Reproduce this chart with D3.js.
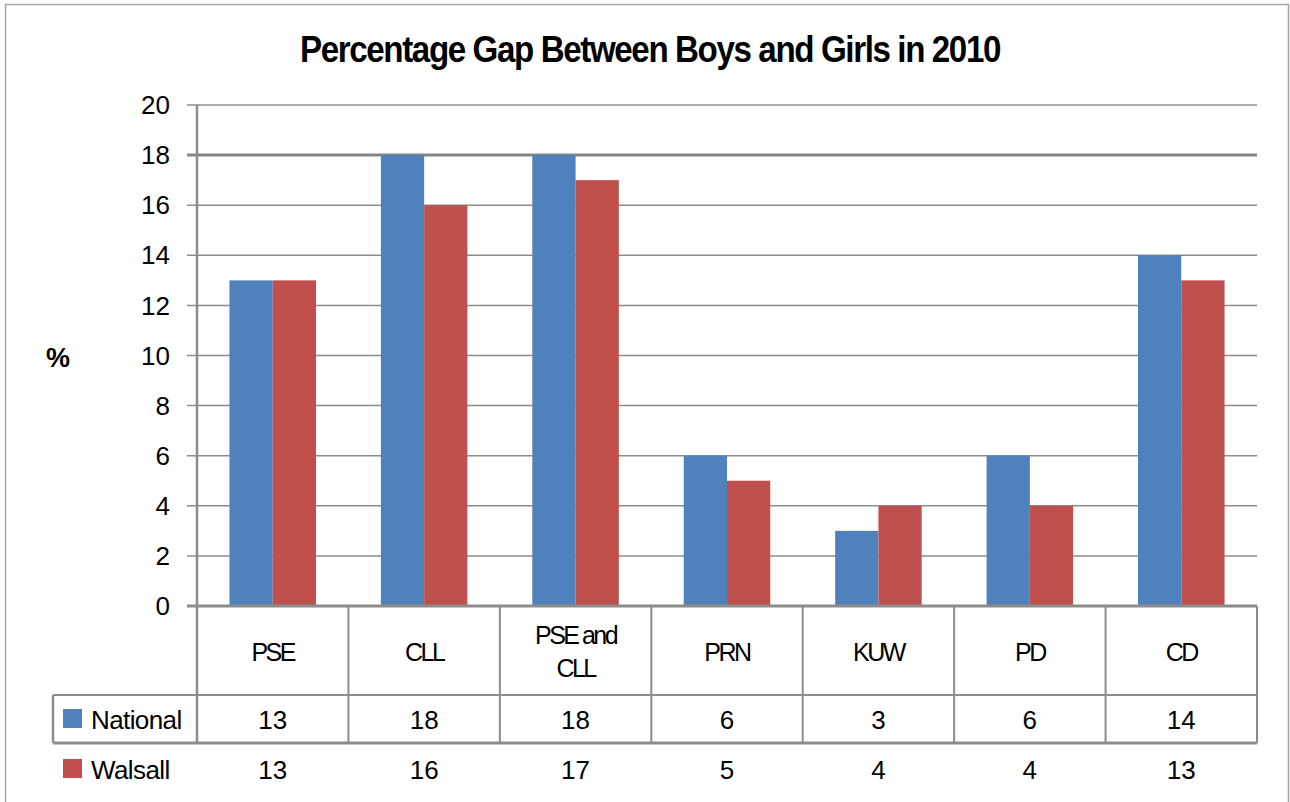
<!DOCTYPE html>
<html>
<head>
<meta charset="utf-8">
<script src="https://cdn.jsdelivr.net/npm/d3@7"></script>
<style>
  body { margin: 0; background: #fff; }
  svg { display: block; font-family: 'Liberation Sans', Arial, sans-serif; }
</style>
</head>
<body>
<div id="chart"></div>
<script>
// data
const categories = ['PSE', 'CLL', 'PSE and CLL', 'PRN', 'KUW', 'PD', 'CD']
const series = ['National', 'Walsall']
const national = [13, 18, 18, 6, 3, 6, 14]
const walsall = [13, 16, 17, 5, 4, 4, 13]
const yTicks = [0, 2, 4, 6, 8, 10, 12, 14, 16, 18, 20]
const colors = ['#4F81BD', '#C0504D']
const values = [national, walsall]

const width = 1290
const height = 802
const plot = { left: 197, right: 1257, top: 105, bottom: 606 }
const headerBottom = 695
const nationalBottom = 743
const gridColor = '#8c8c8c'

const svg = d3.select('#chart')
  .append('svg')
  .attr('width', width)
  .attr('height', height)

// outer frame
svg.append('rect')
  .attr('x', 5.5).attr('y', 4.5)
  .attr('width', 1283).attr('height', 820)
  .attr('fill', 'none')
  .attr('stroke', '#a6a6a6')
  .attr('stroke-width', 1.5)

svg.append('text')
  .attr('x', 650).attr('y', 62)
  .attr('text-anchor', 'middle')
  .attr('font-size', 36)
  .attr('font-weight', 'bold')
  .attr('letter-spacing', -1.5)
  .attr('textLength', 700)
  .attr('lengthAdjust', 'spacingAndGlyphs')
  .text('Percentage Gap Between Boys and Girls in 2010')

const x = d3.scaleBand().domain(categories).range([plot.left, plot.right]).padding(0)
const xs = d3.scaleBand().domain(series).range([0, x.bandwidth()]).paddingInner(0).paddingOuter(0.75)
const y = d3.scaleLinear().domain([0, 20]).range([plot.bottom, plot.top])

// gridlines
svg.append('g')
  .selectAll('line')
  .data(yTicks.filter(d => d > 0))
  .join('line')
  .attr('x1', plot.left - 10).attr('x2', plot.right)
  .attr('y1', d => y(d)).attr('y2', d => y(d))
  .attr('stroke', d => d === 18 ? '#858585' : gridColor)
  .attr('stroke-width', d => d === 18 ? 3 : 1.5)

// y tick labels
svg.append('g')
  .selectAll('text')
  .data(yTicks)
  .join('text')
  .attr('x', 170)
  .attr('y', d => y(d))
  .attr('dy', '0.35em')
  .attr('text-anchor', 'end')
  .attr('font-size', 26)
  .text(d => d)

svg.append('text')
  .attr('x', 58).attr('y', 358)
  .attr('dy', '0.35em')
  .attr('text-anchor', 'middle')
  .attr('font-size', 27)
  .attr('font-weight', 'bold')
  .text('%')

// bars
const groups = svg.append('g')
  .selectAll('g')
  .data(categories)
  .join('g')
  .attr('transform', d => `translate(${x(d)},0)`)

groups.selectAll('rect')
  .data((c, i) => series.map((s, j) => ({ s, j, v: values[j][i] })))
  .join('rect')
  .attr('x', d => xs(d.s))
  .attr('width', xs.bandwidth())
  .attr('y', d => y(d.v))
  .attr('height', d => y(0) - y(d.v))
  .attr('fill', d => colors[d.j])

// table lines
const tbl = svg.append('g').attr('stroke', gridColor).attr('fill', 'none')
// y axis continues through header and national row
tbl.append('line')
  .attr('x1', plot.left).attr('x2', plot.left)
  .attr('y1', plot.top).attr('y2', nationalBottom)
  .attr('stroke-width', 2.5)
// x axis / top of table
tbl.append('line')
  .attr('x1', plot.left - 10).attr('x2', plot.right)
  .attr('y1', plot.bottom).attr('y2', plot.bottom)
  .attr('stroke-width', 3)
// category dividers
tbl.selectAll('.div')
  .data(categories.slice(1).concat(['end']))
  .join('line')
  .attr('class', 'div')
  .attr('x1', d => d === 'end' ? plot.right : x(d))
  .attr('x2', d => d === 'end' ? plot.right : x(d))
  .attr('y1', plot.bottom).attr('y2', nationalBottom)
  .attr('stroke-width', 2)
// horizontal lines of national row
tbl.append('line')
  .attr('x1', 53).attr('x2', plot.right)
  .attr('y1', headerBottom).attr('y2', headerBottom)
  .attr('stroke-width', 2)
tbl.append('line')
  .attr('x1', 53).attr('x2', plot.right)
  .attr('y1', nationalBottom).attr('y2', nationalBottom)
  .attr('stroke-width', 3)
tbl.append('line')
  .attr('x1', 53).attr('x2', 53)
  .attr('y1', headerBottom).attr('y2', nationalBottom)
  .attr('stroke-width', 2.5)

// category labels
const labels = svg.append('g')
  .selectAll('text')
  .data(categories)
  .join('text')
  .attr('text-anchor', 'middle')
  .attr('font-size', 25)
  .attr('letter-spacing', -2.5)
  .attr('x', d => x(d) + x.bandwidth() / 2)
  .attr('y', 652)

labels.each(function(d) {
  const t = d3.select(this)
  const lines = d === 'PSE and CLL' ? ['PSE and', 'CLL'] : [d]
  lines.forEach((l, i) => {
    t.append('tspan')
      .attr('x', x(d) + x.bandwidth() / 2)
      .attr('dy', i === 0 ? (lines.length > 1 ? '-0.31em' : '0.35em') : '1.3em')
      .text(l)
  })
})

// data rows with legend keys
const rowY = [720, 770]
series.forEach((s, j) => {
  svg.append('rect')
    .attr('x', 63).attr('y', rowY[j] - 11)
    .attr('width', 19).attr('height', 19)
    .attr('fill', colors[j])
  svg.append('text')
    .attr('x', 91).attr('y', rowY[j])
    .attr('dy', '0.35em')
    .attr('font-size', 26)
    .attr('letter-spacing', -0.6)
    .text(s)
  svg.append('g')
    .selectAll('text')
    .data(values[j])
    .join('text')
    .attr('x', (d, i) => x(categories[i]) + x.bandwidth() / 2)
    .attr('y', rowY[j])
    .attr('dy', '0.35em')
    .attr('text-anchor', 'middle')
    .attr('font-size', 26)
    .text(d => d)
})
</script>
</body>
</html>
